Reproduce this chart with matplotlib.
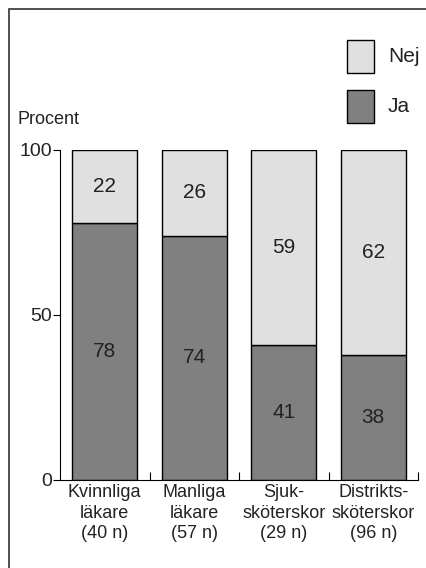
import numpy as np
import matplotlib.pyplot as plt
from matplotlib.patches import Rectangle

plt.rcParams['font.family'] = ['Liberation Sans', 'DejaVu Sans']

# Data
groups = ['Kvinnliga\nläkare\n(40 n)', 'Manliga\nläkare\n(57 n)',
          'Sjuk-\nsköterskor\n(29 n)', 'Distrikts-\nsköterskor\n(96 n)']
ja = [78, 74, 41, 38]
nej = [22, 26, 59, 62]
colors = {'Ja': '#808080', 'Nej': '#e0e0e0'}

fig = plt.figure(figsize=(4.27, 5.68), dpi=100)
ax = fig.add_axes([0.1405, 0.155, 0.8385, 0.581])

x = np.arange(len(groups))
w = 0.73
ax.bar(x, ja, w, color=colors['Ja'], edgecolor='black', linewidth=1)
ax.bar(x, nej, w, bottom=ja, color=colors['Nej'], edgecolor='black', linewidth=1)

for i in range(len(groups)):
    ax.text(x[i], ja[i] / 2, str(ja[i]), ha='center', va='center', fontsize=15, color='#222222')
    ax.text(x[i], ja[i] + nej[i] / 2, str(nej[i]), ha='center', va='center', fontsize=15, color='#222222')

ax.set_xlim(-0.5, 3.5)
ax.set_ylim(0, 100)
ax.spines['top'].set_visible(False)
ax.spines['right'].set_visible(False)
ax.set_yticks([0, 50, 100])
ax.tick_params(axis='y', direction='out', length=5, labelsize=14, pad=1, labelcolor='#222222')
ax.set_xticks([0.5, 1.5, 2.5, 3.5])
ax.set_xticklabels([])
ax.tick_params(axis='x', direction='in', length=6)
for i, g in enumerate(groups):
    ax.text(x[i], -1.2, g, ha='center', va='top', fontsize=13, linespacing=1.28,
            color='#222222', transform=ax.transData)

fig.text(18 / 427, 1 - 120 / 568, 'Procent', fontsize=13, ha='left', va='center', color='#222222')

# legend boxes
for name, ytop in [('Nej', 40), ('Ja', 90)]:
    fig.patches.append(Rectangle((347 / 427, 1 - (ytop + 33) / 568), 27 / 427, 33 / 568,
                                 transform=fig.transFigure, facecolor=colors[name],
                                 edgecolor='black', linewidth=1))
    fig.text(388 / 427, 1 - (ytop + 16) / 568, name, fontsize=15, ha='left', va='center',
             color='#222222')

# outer frame
fig.patches.append(Rectangle((9 / 427, -0.1), 1.2, 1 - 9 / 568 + 0.1, transform=fig.transFigure,
                             fill=False, edgecolor='#333333', linewidth=1.2))

fig.savefig('out.png', dpi=100)
